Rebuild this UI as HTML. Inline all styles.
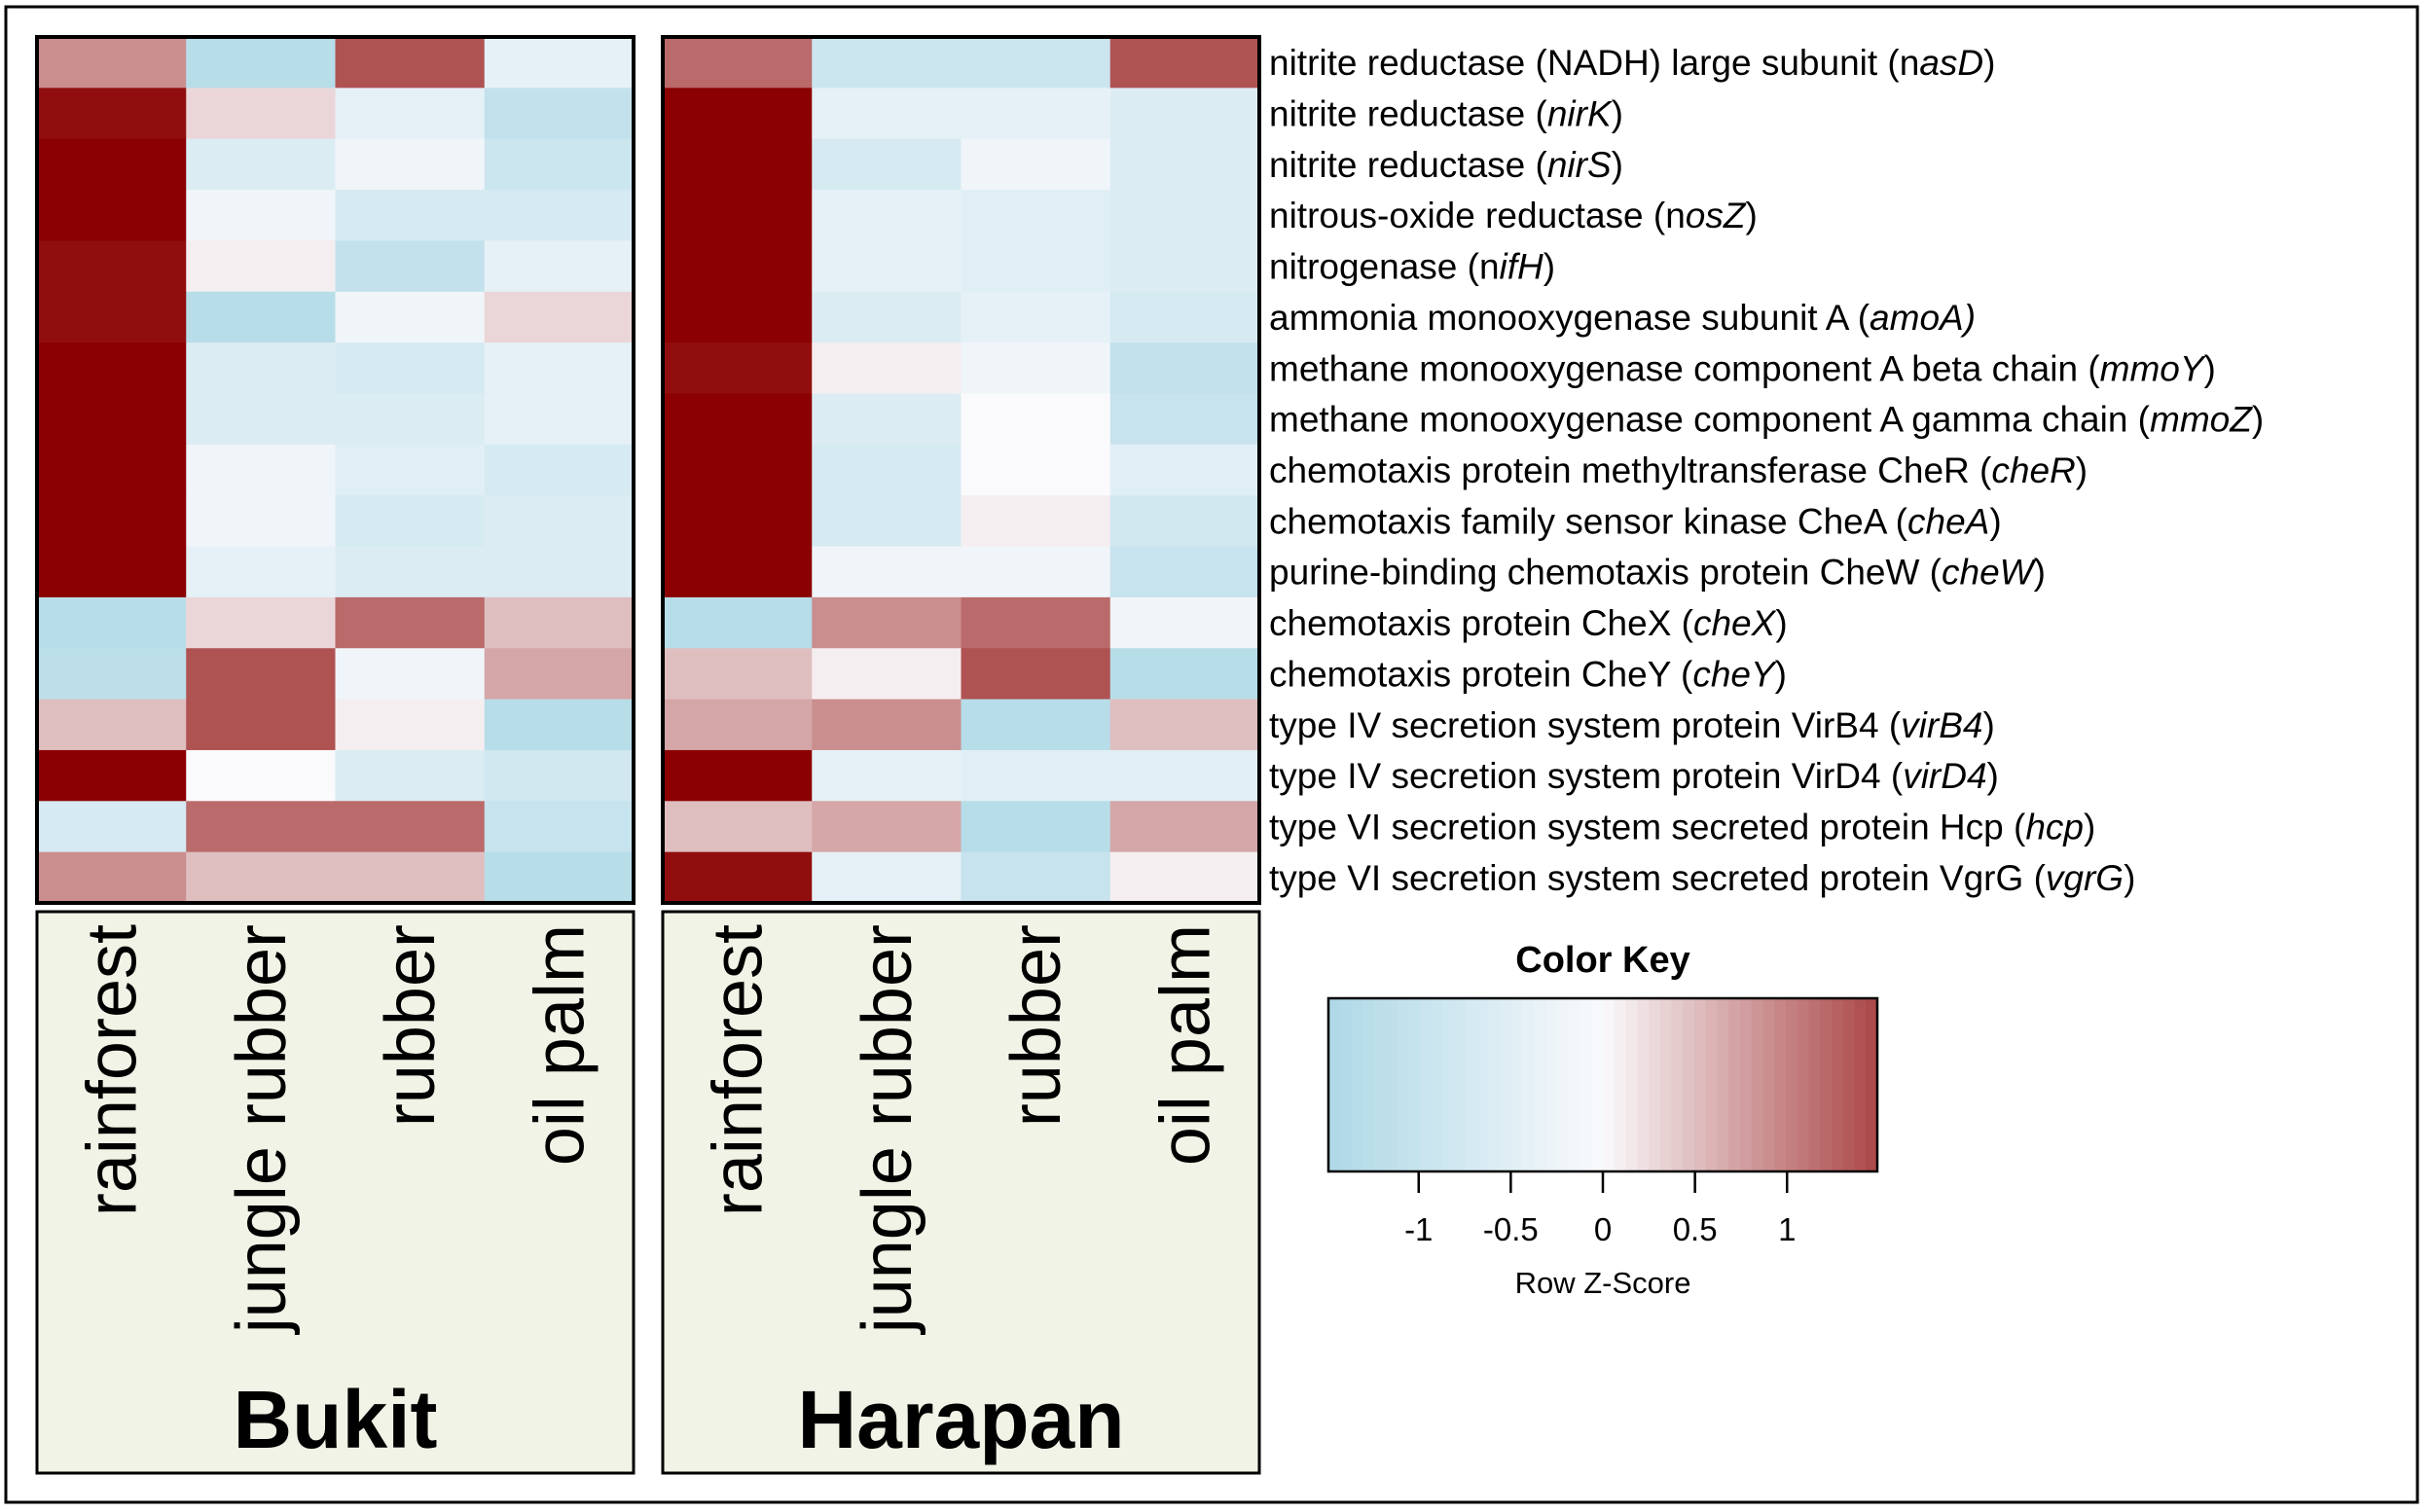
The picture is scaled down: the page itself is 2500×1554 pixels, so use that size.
<!DOCTYPE html>
<html><head><meta charset="utf-8"><style>
html,body{margin:0;padding:0;background:#fff;}
svg{display:block;font-family:"Liberation Sans",Arial,sans-serif;}
</style></head><body>
<svg id="chart" width="2500" height="1554" viewBox="0 0 2500 1554" xmlns="http://www.w3.org/2000/svg">
<rect x="6" y="7" width="2478" height="1537" fill="#fff" stroke="#000" stroke-width="3"/>
<g id="cells"></g>
<g id="labels"></g>
<g id="cols"></g>
<g id="key"></g>
</svg>
<script>
const sites = ["Bukit","Harapan"];
const landUses = ["rainforest","jungle rubber","rubber","oil palm"];
const genes = [
 ["nitrite reductase (NADH) large subunit (n","asD",")"],
 ["nitrite reductase (","nirK",")"],
 ["nitrite reductase (","nirS",")"],
 ["nitrous-oxide reductase (n","osZ",")"],
 ["nitrogenase (n","ifH",")"],
 ["ammonia monooxygenase subunit A (","amoA)",""],
 ["methane monooxygenase component A beta chain (","mmoY",")"],
 ["methane monooxygenase component A gamma chain (","mmoZ",")"],
 ["chemotaxis protein methyltransferase CheR (","cheR",")"],
 ["chemotaxis family sensor kinase CheA (","cheA",")"],
 ["purine-binding chemotaxis protein CheW (","cheW",")"],
 ["chemotaxis protein CheX (","cheX",")"],
 ["chemotaxis protein CheY (","cheY",")"],
 ["type IV secretion system protein VirB4 (","virB4",")"],
 ["type IV secretion system protein VirD4 (","virD4",")"],
 ["type VI secretion system secreted protein Hcp (","hcp",")"],
 ["type VI secretion system secreted protein VgrG (","vgrG",")"]
];
const bukitZ = [
 [0.9,-1.3,1.4,-0.4],[1.9,0.3,-0.4,-1.1],[2,-0.6,-0.2,-0.9],[2,-0.2,-0.7,-0.7],
 [1.9,0.1,-1.1,-0.4],[1.9,-1.3,-0.2,0.3],[2,-0.6,-0.7,-0.4],[2,-0.6,-0.6,-0.4],
 [2,-0.2,-0.5,-0.7],[2,-0.2,-0.7,-0.6],[2,-0.4,-0.6,-0.6],[-1.3,0.3,1.2,0.5],
 [-1.2,1.4,-0.2,0.7],[0.5,1.4,0.1,-1.3],[2,0.0,-0.6,-0.8],[-0.7,1.2,1.2,-1.0],
 [0.9,0.5,0.5,-1.3]
];
const harapanZ = [
 [1.2,-0.9,-0.9,1.4],[2,-0.4,-0.4,-0.6],[2,-0.7,-0.2,-0.6],[2,-0.4,-0.5,-0.6],
 [2,-0.4,-0.5,-0.6],[2,-0.6,-0.4,-0.7],[1.9,0.1,-0.2,-1.1],[2,-0.6,0,-1.0],
 [2,-0.7,0,-0.5],[2,-0.7,0.1,-0.8],[2,-0.2,-0.2,-1.0],[-1.3,0.9,1.2,-0.2],
 [0.5,0.1,1.4,-1.3],[0.7,0.9,-1.3,0.5],[2,-0.4,-0.5,-0.5],[0.5,0.7,-1.3,0.7],
 [1.9,-0.4,-1.0,0.1]
];
const keyTicks = [-1,-0.5,0,0.5,1];
const keyTickLabels = ["-1","-0.5","0","0.5","1"];

const NS="http://www.w3.org/2000/svg";
function mk(tag,attrs,parent){const e=document.createElementNS(NS,tag);for(const k in attrs)e.setAttribute(k,attrs[k]);parent.appendChild(e);return e;}
const stops=[[-1.5,[173,216,230]],[0,[250,250,252]],[1.5,[170,70,70]],[2,[139,0,0]]];
function color(z){
 z=Math.max(-1.5,Math.min(2,z));
 for(let i=0;i<stops.length-1;i++){const a=stops[i],b=stops[i+1];
  if(z<=b[0]){const t=(z-a[0])/(b[0]-a[0]);const c=a[1].map((v,j)=>Math.round(v+(b[1][j]-v)*t));return `rgb(${c})`;}}
 return "rgb(139,0,0)";
}
const panelX=[38,681], panelW=613, yTop=38, yBottom=928;
const rowH=(yBottom-yTop)/genes.length;
const yRow=i=>yTop+i*rowH;
const xCol=(p,j)=>panelX[p]+j*panelW/landUses.length;
const cellsG=document.getElementById('cells');
[bukitZ,harapanZ].forEach((data,p)=>{
 data.forEach((row,i)=>row.forEach((z,j)=>{
  const r=mk('rect',{x:xCol(p,j),y:yRow(i),width:panelW/4+0.5,height:rowH+0.5,fill:color(z)},cellsG);
  
  
 }));
 const f=mk('rect',{x:panelX[p],y:yTop,width:panelW,height:yBottom-yTop,fill:'none',stroke:'#000','stroke-width':4},cellsG);
 
 
});
const labelsG=document.getElementById('labels');
genes.forEach((g,i)=>{
 const t=mk('text',{x:1304,y:yRow(i)+rowH/2+13,'font-size':37,fill:'#000'},labelsG);
 
 
 mk('tspan',{},t).textContent=g[0];
 mk('tspan',{'font-style':'italic'},t).textContent=g[1];
 mk('tspan',{},t).textContent=g[2];
});
const colsG=document.getElementById('cols');
sites.forEach((s,p)=>{
 const b=mk('rect',{x:panelX[p],y:937,width:panelW,height:577,fill:'#f1f3e6',stroke:'#000','stroke-width':3},colsG);
 
 
 landUses.forEach((l,j)=>{
  const cx=xCol(p,j)+panelW/8+25;
  const t=mk('text',{x:0,y:0,transform:`translate(${cx},950) rotate(-90)`,'text-anchor':'end','font-size':72,fill:'#000'},colsG);
  t.textContent=l;
  
  
 });
 const st=mk('text',{x:panelX[p]+panelW/2,y:1488,'text-anchor':'middle','font-size':84,'font-weight':'bold',fill:'#000'},colsG);
 st.textContent=s;
 
 
});
const keyG=document.getElementById('key');
const kx0=1365,kx1=1929,ky0=1026,ky1=1204,kmin=-1.49,kmax=1.49;
const kx=v=>kx0+(v-kmin)/(kmax-kmin)*(kx1-kx0);
const nSteps=48;
for(let s=0;s<nSteps;s++){
 const v0=kmin+(kmax-kmin)*s/nSteps;
 const r=mk('rect',{x:kx(v0),y:ky0,width:(kx1-kx0)/nSteps+0.6,height:ky1-ky0,fill:color(v0+(kmax-kmin)/nSteps/2)},keyG);
 
 
}
const kf=mk('rect',{x:kx0,y:ky0,width:kx1-kx0,height:ky1-ky0,fill:'none',stroke:'#000','stroke-width':2.5},keyG);


keyTicks.forEach((v,i)=>{
 const l=mk('line',{x1:kx(v),x2:kx(v),y1:ky1,y2:ky1+22,stroke:'#000','stroke-width':2.5},keyG);
 
 
 const t=mk('text',{x:kx(v),y:1275,'text-anchor':'middle','font-size':33,fill:'#000'},keyG);
 t.textContent=keyTickLabels[i];
 
 
});
const kt=mk('text',{x:1647,y:999,'text-anchor':'middle','font-size':38,'font-weight':'bold',fill:'#000'},keyG);
kt.textContent='Color Key';


const kxl=mk('text',{x:1647,y:1329,'text-anchor':'middle','font-size':31,fill:'#000'},keyG);
kxl.textContent='Row Z-Score';


</script>
</body></html>
